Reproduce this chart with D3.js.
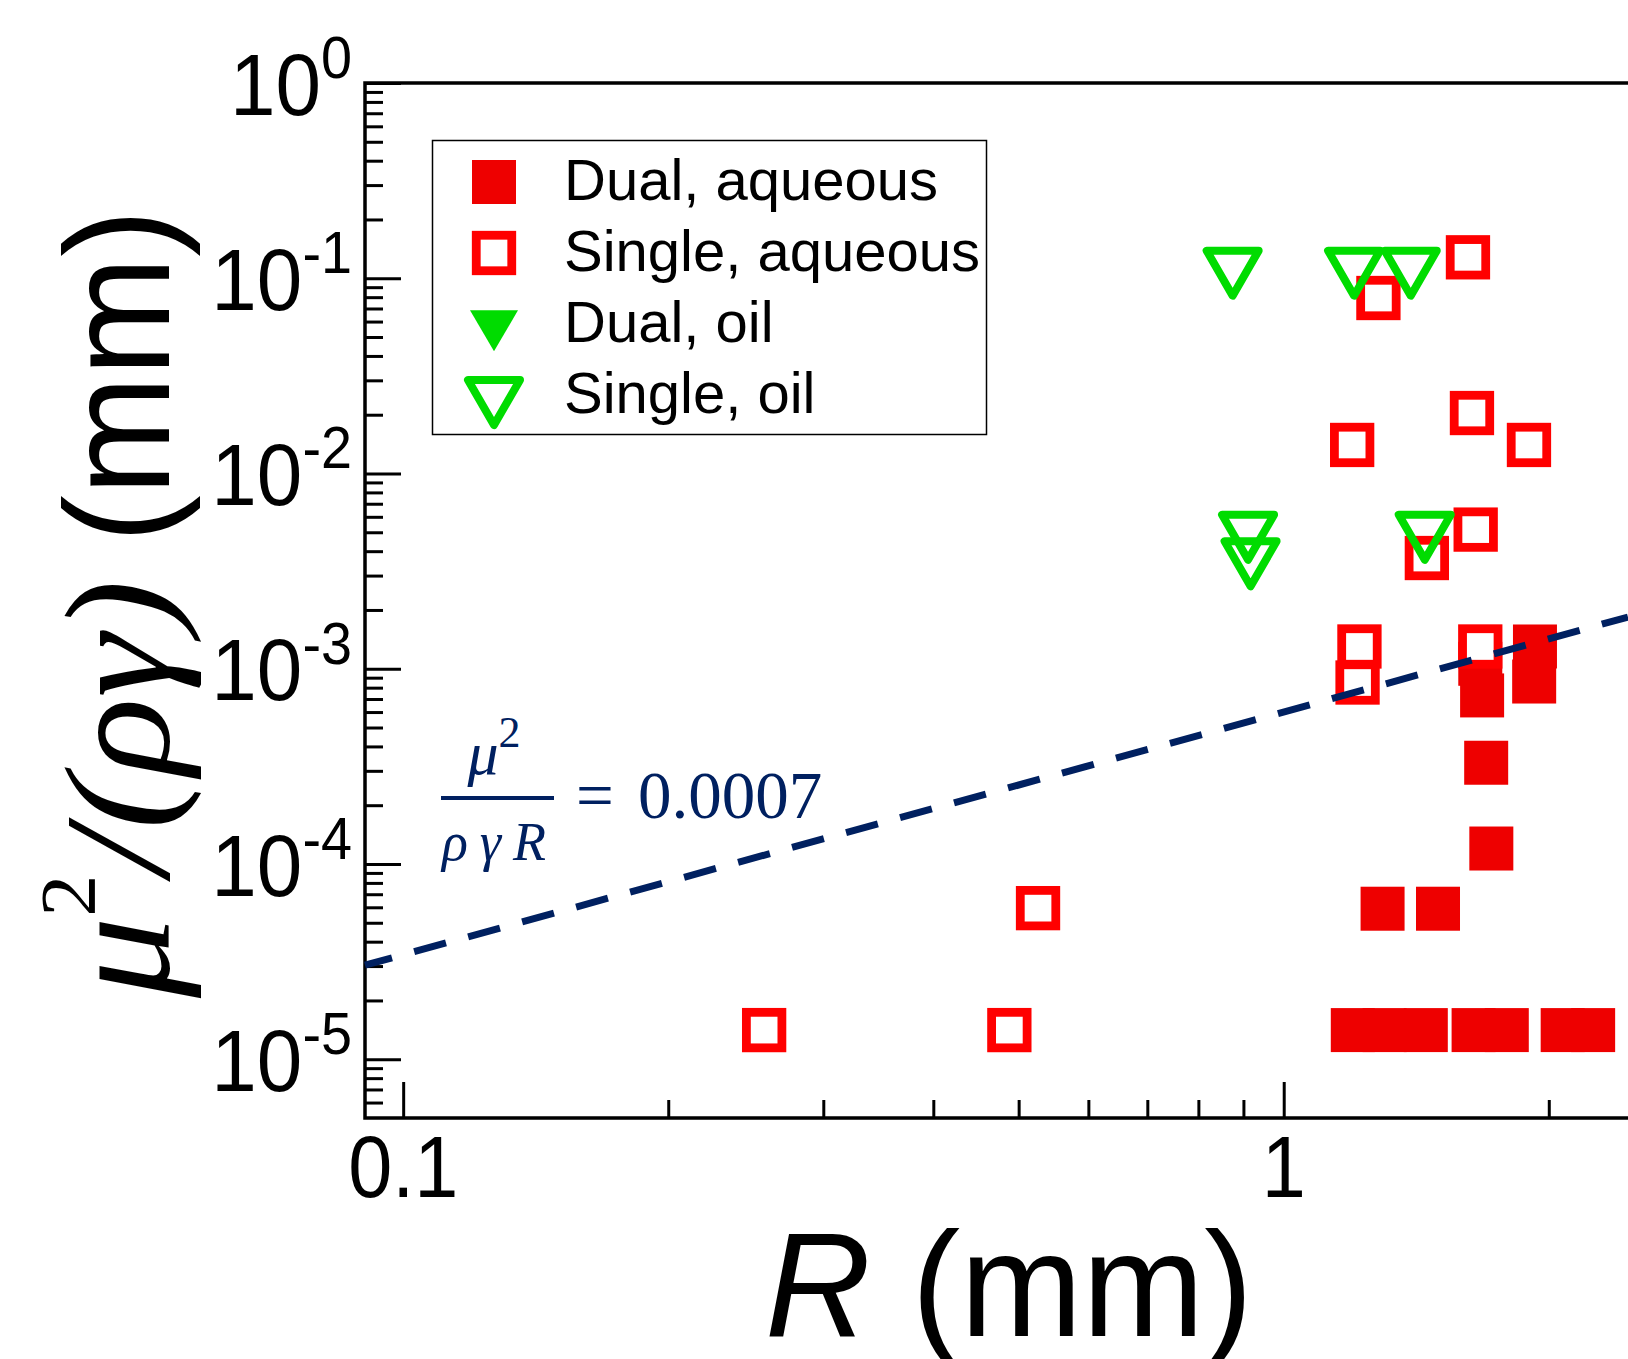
<!DOCTYPE html>
<html>
<head>
<meta charset="utf-8">
<script src="https://cdn.jsdelivr.net/npm/d3@7"></script>
<style>
  body { margin: 0; background: #fff; }
  svg { display: block; }
  text { font-family: "Liberation Sans", Arial, sans-serif; fill: #000; }
  .serif { font-family: "Liberation Serif", "Times New Roman", serif; }
</style>
</head>
<body>
<svg id="chart" width="1628" height="1359"></svg>
<script>
// Dual, aqueous (filled red squares)
const dualAqueousR = [1.929, 1.925, 1.672, 1.680, 1.698, 1.721, 1.295, 1.497,
  1.198, 1.302, 1.450, 1.643, 1.792, 2.074, 2.246]
const dualAqueousV = [1.30e-3, 8.6e-4, 1.06e-3, 7.3e-4, 3.3e-4, 1.2e-4, 5.9e-5, 5.9e-5,
  1.41e-5, 1.41e-5, 1.41e-5, 1.41e-5, 1.41e-5, 1.41e-5, 1.41e-5]

// Single, aqueous (open red squares)
const singleAqueousR = [1.619, 1.281, 1.636, 1.196, 1.899, 1.652, 1.454, 1.219, 1.213,
  1.672, 0.526, 0.257, 0.488]
const singleAqueousV = [0.128, 0.0792, 0.0204, 0.0140, 0.0140, 5.16e-3, 3.69e-3, 1.30e-3, 8.5e-4,
  1.30e-3, 5.94e-5, 1.41e-5, 1.41e-5]

// Dual, oil (filled green triangles) - legend only
const dualOilR = []
const dualOilV = []

// Single, oil (open green triangles)
const singleOilR = [0.875, 1.202, 1.394, 0.911, 0.917, 1.446]
const singleOilV = [0.116, 0.116, 0.116, 5.15e-3, 3.77e-3, 5.15e-3]

// dashed guide, mu^2/(rho gamma R) = 0.0007
const fitR = [0.0905, 2.46]
const fitV = [3.03e-5, 1.84e-3]

const xMajor = [0.1, 1]
const xMinor = [0.2, 0.3, 0.4, 0.5, 0.6, 0.7, 0.8, 0.9, 2]
const yMajor = [1, 1e-1, 1e-2, 1e-3, 1e-4, 1e-5]
const yExponents = ["0", "-1", "-2", "-3", "-4", "-5"]

const legendLabels = ["Dual, aqueous", "Single, aqueous", "Dual, oil", "Single, oil"]

const red = "#ff0000", redFill = "#ee0000", green = "#00dc00", navy = "#002060"

const svg = d3.select("#chart")

const x = d3.scaleLog().domain([0.0905, 2.47]).range([365, 1629.5])
const y = d3.scaleLog().domain([5e-6, 1]).range([1118, 83])

const plotLeft = x.range()[0], plotRight = 1628
const plotTop = y(1), plotBottom = y(5e-6)

// minor y ticks: 2..9 x 10^k
const yMinor = []
for (let k = -6; k < 0; k++) {
  for (let m = 2; m <= 9; m++) {
    const v = m * Math.pow(10, k)
    if (v > 5e-6 && v < 1) yMinor.push(v)
  }
}

// axes (ticks point inward)
function tidy(g) {
  g.select(".domain").remove()
  g.selectAll(".tick line").attr("stroke", "#000").attr("stroke-width", 3)
}

svg.append("g").attr("transform", `translate(0,${plotBottom})`)
  .call(d3.axisBottom(x).tickValues(xMajor).tickSize(-36).tickFormat(""))
  .call(tidy)
svg.append("g").attr("transform", `translate(0,${plotBottom})`)
  .call(d3.axisBottom(x).tickValues(xMinor).tickSize(-18).tickFormat(""))
  .call(tidy)
svg.append("g").attr("transform", `translate(${plotLeft},0)`)
  .call(d3.axisLeft(y).tickValues(yMajor).tickSize(-36).tickFormat(""))
  .call(tidy)
svg.append("g").attr("transform", `translate(${plotLeft},0)`)
  .call(d3.axisLeft(y).tickValues(yMinor).tickSize(-18).tickFormat(""))
  .call(tidy)

// spines
svg.append("path")
  .attr("d", `M${plotRight},${plotTop}H${plotLeft}V${plotBottom}H${plotRight}`)
  .attr("fill", "none").attr("stroke", "#000").attr("stroke-width", 3.5)

// tick labels
svg.selectAll(".xlab").data(xMajor).enter()
  .append("g")
  .attr("transform", d => `translate(${x(d)},1197) scale(0.9,1)`)
  .append("text")
  .attr("text-anchor", "middle")
  .attr("font-size", 88)
  .text(d => d)

const ylab = svg.selectAll(".ylab").data(yMajor).enter()
  .append("g")
  .attr("transform", d => `translate(352,${y(d) + 31.7}) scale(0.93,1)`)
  .append("text")
  .attr("text-anchor", "end")
  .attr("font-size", 88)
ylab.append("tspan").text("10")
ylab.append("tspan").attr("font-size", 60).attr("dy", -36.7).text((d, i) => yExponents[i])

// axis titles
const xt = svg.append("g")
  .attr("transform", "translate(1009,1336) scale(0.99,1)")
  .append("text").attr("text-anchor", "middle").attr("font-size", 148)
xt.append("tspan").attr("font-style", "italic").text("R")
xt.append("tspan").text(" (mm)")

svg.append("g")
  .attr("transform", "translate(169,376) rotate(-90) scale(0.96,1)")
  .append("text").attr("text-anchor", "middle").attr("font-size", 149)
  .text("(mm)")

const yt = svg.append("g")
  .attr("transform", "translate(169,789) rotate(-90) scale(1.08,1)")
  .append("text").attr("class", "serif").attr("text-anchor", "middle")
  .attr("font-size", 150).attr("font-style", "italic")
yt.append("tspan").text("\u03bc")
yt.append("tspan").attr("font-size", 78).attr("font-style", "normal").attr("dy", -75).text("2")
yt.append("tspan").attr("dy", 75).text("/(\u03c1\u03b3)")

// markers
const tri = (hw, h) => `M${-hw},${-h / 3}L${hw},${-h / 3}L0,${2 * h / 3}Z`
const openTri = tri(26, 45)
const fullTri = tri(24, 41)

const pts = (rs, vs) => rs.map((r, i) => ({ r: r, v: vs[i] }))

svg.append("g").selectAll("rect")
  .data(pts(dualAqueousR, dualAqueousV)).enter()
  .append("rect")
  .attr("x", d => x(d.r) - 22).attr("y", d => y(d.v) - 22)
  .attr("width", 44).attr("height", 44)
  .attr("fill", redFill)

svg.append("g").selectAll("rect")
  .data(pts(singleAqueousR, singleAqueousV)).enter()
  .append("rect")
  .attr("x", d => x(d.r) - 17.75).attr("y", d => y(d.v) - 17.75)
  .attr("width", 35.5).attr("height", 35.5)
  .attr("fill", "#fff").attr("stroke", red).attr("stroke-width", 8.8)

svg.append("g").selectAll("path")
  .data(pts(dualOilR, dualOilV)).enter()
  .append("path")
  .attr("transform", d => `translate(${x(d.r)},${y(d.v)})`)
  .attr("d", fullTri).attr("fill", green)

svg.append("g").selectAll("path")
  .data(pts(singleOilR, singleOilV)).enter()
  .append("path")
  .attr("transform", d => `translate(${x(d.r)},${y(d.v)})`)
  .attr("d", openTri)
  .attr("fill", "none").attr("stroke", green).attr("stroke-width", 8)
  .attr("stroke-linejoin", "round")

// dashed guide line
svg.append("path")
  .datum(pts(fitR, fitV))
  .attr("d", d3.line().x(d => x(d.r)).y(d => y(d.v)))
  .attr("fill", "none").attr("stroke", navy).attr("stroke-width", 7)
  .attr("stroke-dasharray", "33 23").attr("stroke-dashoffset", 5)

// annotation
const ann = svg.append("g")
const num = ann.append("text").attr("class", "serif")
  .attr("x", 494).attr("y", 774).attr("text-anchor", "middle")
  .attr("font-size", 62).style("fill", navy)
num.append("tspan").attr("font-style", "italic").text("\u03bc")
num.append("tspan").attr("font-size", 44).attr("dy", -27).text("2")
ann.append("line")
  .attr("x1", 441).attr("x2", 554).attr("y1", 798).attr("y2", 798)
  .attr("stroke", navy).attr("stroke-width", 4)
ann.append("text").attr("class", "serif")
  .attr("x", 494).attr("y", 860).attr("text-anchor", "middle")
  .attr("font-size", 54).attr("font-style", "italic").style("fill", navy)
  .attr("textLength", 104).attr("lengthAdjust", "spacing")
  .text("\u03c1\u03b3R")
ann.append("text").attr("class", "serif")
  .attr("x", 595).attr("y", 818).attr("text-anchor", "middle")
  .attr("font-size", 67).style("fill", navy).text("=")
ann.append("text").attr("class", "serif")
  .attr("x", 638).attr("y", 818)
  .attr("font-size", 67).style("fill", navy).text("0.0007")

// legend
const lg = svg.append("g")
lg.append("rect")
  .attr("x", 432.5).attr("y", 140.5).attr("width", 554).attr("height", 294)
  .attr("fill", "#fff").attr("stroke", "#000").attr("stroke-width", 1.5)

const rowY = d3.scaleLinear().domain([0, 3]).range([182, 395])
const row = lg.selectAll(".row").data(legendLabels).enter()
  .append("g").attr("transform", (d, i) => `translate(494,${rowY(i)})`)

row.filter((d, i) => i == 0).append("rect")
  .attr("x", -22).attr("y", -22).attr("width", 44).attr("height", 44).attr("fill", redFill)
row.filter((d, i) => i == 1).append("rect")
  .attr("x", -17.75).attr("y", -17.75).attr("width", 35.5).attr("height", 35.5)
  .attr("fill", "#fff").attr("stroke", red).attr("stroke-width", 8.8)
row.filter((d, i) => i == 2).append("path").attr("d", fullTri).attr("fill", green)
row.filter((d, i) => i == 3).append("path").attr("d", openTri)
  .attr("fill", "none").attr("stroke", green).attr("stroke-width", 8)
  .attr("stroke-linejoin", "round")

row.append("text")
  .attr("x", 70).attr("y", 18)
  .attr("font-size", 58)
  .text(d => d)
</script>
</body>
</html>
